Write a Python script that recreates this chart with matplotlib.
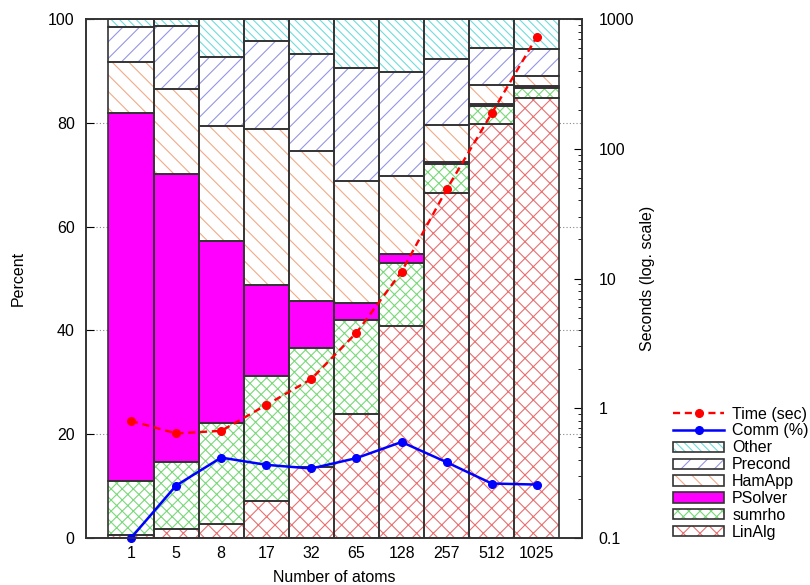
import matplotlib
matplotlib.use("Agg")
import matplotlib.pyplot as plt
import numpy as np
from matplotlib.patches import Patch

plt.rcParams['font.family'] = ['Liberation Sans', 'DejaVu Sans']
plt.rcParams['font.size'] = 11.5
plt.rcParams['hatch.linewidth'] = 0.8

atoms = ["1", "5", "8", "17", "32", "65", "128", "257", "512", "1025"]

# share of run time per section, in percent (bottom to top)
linalg  = [0.6, 1.7, 2.7, 7.1, 13.7, 23.8, 40.8, 66.5, 79.7, 84.7]
sumrho  = [10.4, 13.0, 19.4, 24.1, 23.0, 18.3, 12.1, 5.6, 3.5, 2.1]
psolver = [70.8, 55.5, 35.1, 17.5, 9.0, 3.1, 1.8, 0.4, 0.4, 0.3]
hamapp  = [10.0, 16.4, 22.1, 30.1, 28.9, 23.5, 15.0, 7.1, 3.7, 1.9]
precond = [6.7, 12.1, 13.4, 17.0, 18.6, 21.8, 20.0, 12.6, 7.2, 5.2]
other   = [1.5, 1.3, 7.3, 4.2, 6.8, 9.5, 10.3, 7.8, 5.5, 5.8]

comm = [0.0, 10.1, 15.5, 14.1, 13.4, 15.4, 18.5, 14.6, 10.5, 10.3]
time_sec = [0.80, 0.64, 0.67, 1.06, 1.68, 3.82, 11.3, 48.7, 188, 730]

sections = [
    ("LinAlg", linalg, "white", "#e87070", "xx"),
    ("sumrho", sumrho, "white", "#7ad87a", "xxx"),
    ("PSolver", psolver, "#ff00ff", "#ff00ff", None),
    ("HamApp", hamapp, "white", "#f2aa88", "\\\\"),
    ("Precond", precond, "white", "#9595e4", "//"),
    ("Other", other, "white", "#70dcdc", "\\\\\\\\"),
]

fig = plt.figure(figsize=(8.1, 5.85), dpi=100)
ax = fig.add_axes([0.106, 0.0803, 0.6125, 0.8872])
x = np.arange(len(atoms))
edge = "#333333"

handles = {}
bottom = np.zeros(len(atoms))
for name, vals, face, hcol, hatch in sections:
    vals = np.array(vals)
    ax.bar(x, vals, 1.0, bottom=bottom, color=face, edgecolor=hcol,
           hatch=hatch, linewidth=0, zorder=2)
    ax.bar(x, vals, 1.0, bottom=bottom, fill=False, edgecolor=edge,
           linewidth=1.2, zorder=3)
    bottom += vals
    handles[name] = (Patch(facecolor=face, edgecolor=hcol, hatch=hatch, linewidth=0),
                     Patch(fill=False, edgecolor=edge, linewidth=1.2))

ax.set_xlim(-1, 10)
ax.set_ylim(0, 100)
ax.set_xticks(x)
ax.set_xticklabels(atoms)
ax.set_yticks([0, 20, 40, 60, 80, 100])
ax.tick_params(axis="x", length=0, pad=6)
ax.tick_params(axis="y", direction="in", length=6, pad=8)
ax.yaxis.grid(True, linestyle=(0, (1, 2)), color="#888888", linewidth=0.8)
ax.set_axisbelow(True)
ax.set_xlabel("Number of atoms", labelpad=6)
ax.set_ylabel("Percent", labelpad=16)
for s in ax.spines.values():
    s.set_color("#333333")
    s.set_linewidth(1.2)

comm_line, = ax.plot(x, comm, color="#0000ff", linewidth=1.8, marker="o",
                     markersize=5.5, zorder=5, clip_on=False)

ax2 = ax.twinx()
ax2.set_yscale("log")
ax2.set_ylim(0.1, 1000)
time_line, = ax2.plot(x, time_sec, color="#ff0000", linewidth=1.7,
                      linestyle=(0, (3, 2)), marker="o", markersize=5.5, zorder=5)
ax2.set_yticks([0.1, 1, 10, 100, 1000])
ax2.set_yticklabels(["0.1", "1", "10", "100", "1000"])
ax2.tick_params(axis="y", which="major", direction="in", length=6, pad=12)
ax2.tick_params(axis="y", which="minor", direction="in", length=3)
ax2.set_ylabel("Seconds (log. scale)", labelpad=4)
for s in ax2.spines.values():
    s.set_color("#333333")
    s.set_linewidth(1.2)

order = ["Other", "Precond", "HamApp", "PSolver", "sumrho", "LinAlg"]
leg_handles = [time_line, comm_line] + [handles[n] for n in order]
leg_labels = ["Time (sec)", "Comm (%)"] + order
fig.legend(leg_handles, leg_labels, loc="upper left",
           bbox_to_anchor=(0.823, 0.316), frameon=False,
           handlelength=3.2, handleheight=0.6, labelspacing=0.12,
           handletextpad=0.5, borderaxespad=0)

fig.savefig("out.png", dpi=100)
